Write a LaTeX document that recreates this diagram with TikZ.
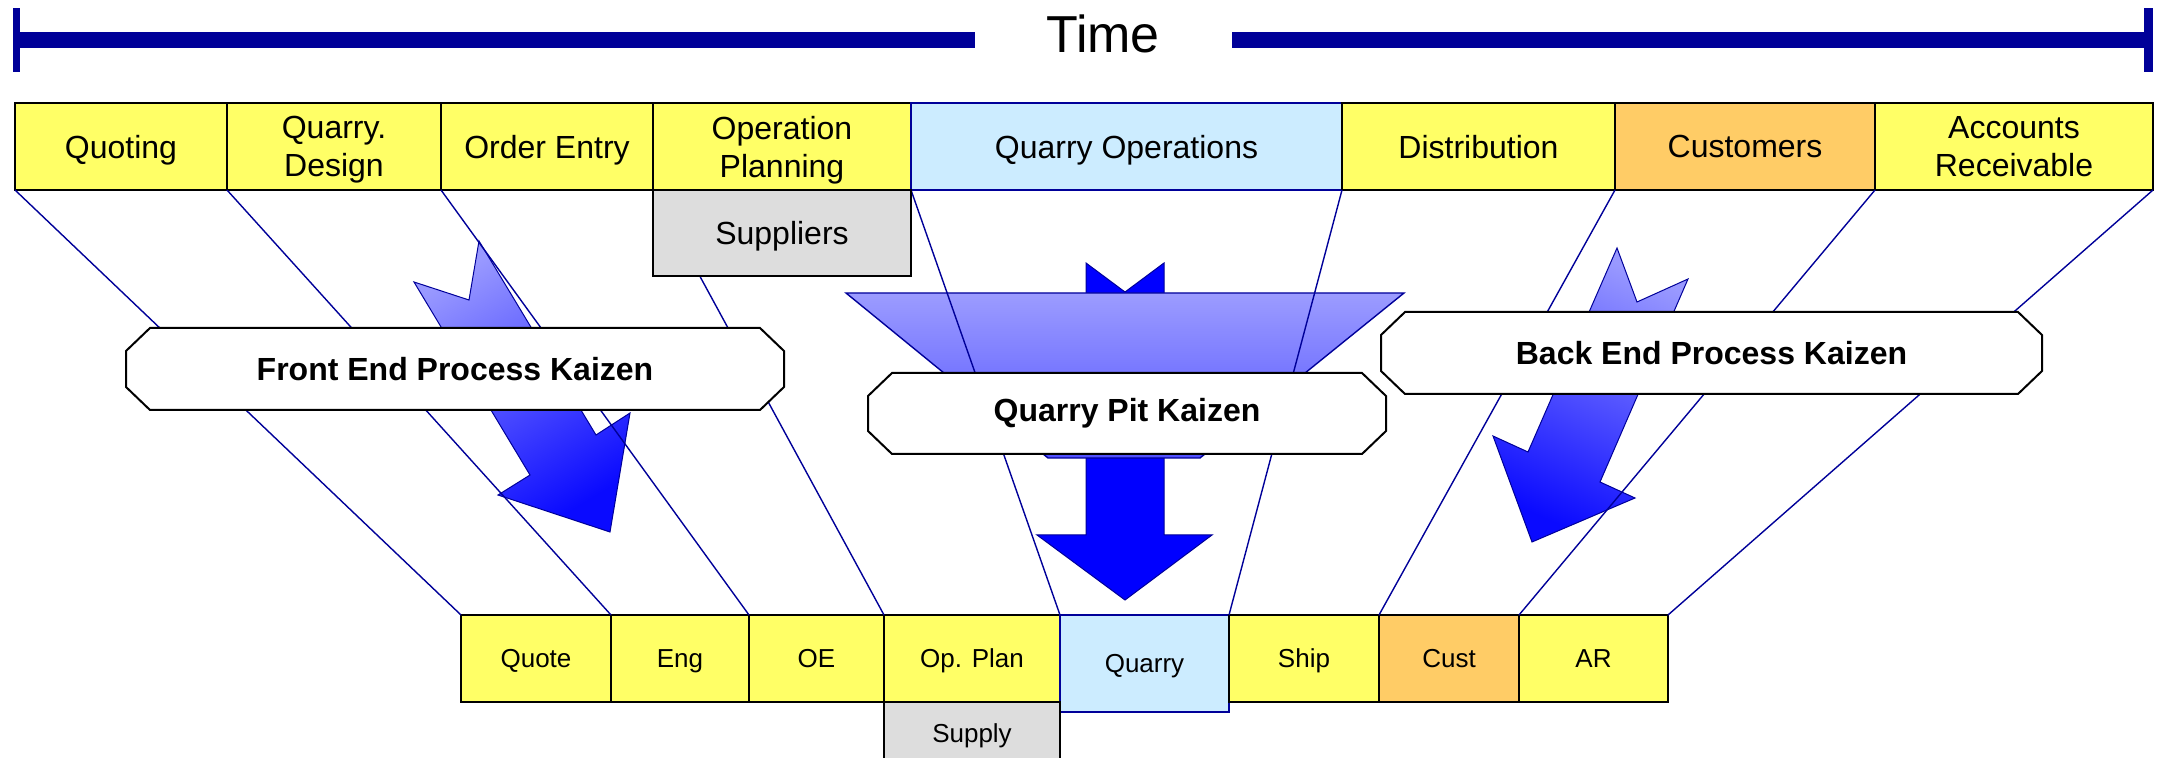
\documentclass[tikz,border=0pt]{standalone}
\usepackage{fontspec}
\setmainfont{Liberation Sans}
\definecolor{tbar}{HTML}{000099}
\definecolor{ylw}{HTML}{FFFF66}
\definecolor{lblue}{HTML}{CCECFF}
\definecolor{orng}{HTML}{FFCC66}
\definecolor{gry}{HTML}{DDDDDD}
\definecolor{lnk}{HTML}{000099}
\definecolor{arlight}{HTML}{9999FF}
\definecolor{ardark}{HTML}{0A0AFF}
\definecolor{funtop}{HTML}{9C9CFF}
\definecolor{funbot}{HTML}{5050FF}
\definecolor{solidblue}{HTML}{0000FF}
\newcommand\mybanner[6]{%
  \path[bannerline] ({#2+24},#3) -- ({#4-24},#3) -- (#4,{#3+23}) -- (#4,{#5-23}) --
    ({#4-24},#5) -- ({#2+24},#5) -- (#2,{#5-23}) -- (#2,{#3+23}) -- cycle;
  \node[bannertext] (#1) at ({(#2+#4)/2},{(#3+#5)/2}) {#6};}
\newcommand\mybox[7]{%
  \node[#6, minimum width={(#4-#2)/2}, minimum height={(#5-#3)/2}]
    (#1) at ({(#2+#4)/2},{(#3+#5)/2}) {#7};}
\begin{document}
\begin{tikzpicture}[x=0.5pt,y=-0.5pt,
  pbox/.style={draw=black, line width=1pt, inner sep=0pt, outer sep=0pt, text depth=0pt,
    font=\fontsize{16}{19}\selectfont, align=center},
  sbox/.style={draw=black, line width=1pt, inner sep=0pt, outer sep=0pt, text depth=0pt,
    font=\fontsize{13}{15}\selectfont, align=center},
  link/.style={draw=lnk, line width=0.7pt},
  bannerline/.style={draw=black, fill=white, line width=1pt},
  bannertext/.style={font=\bfseries\fontsize{16}{19}\selectfont},
  fatarrow/.style={draw=lnk, line width=0.5pt, top color=arlight, bottom color=ardark},
]
\useasboundingbox (0,0) rectangle (2158,758);
\clip (0,0) rectangle (2158,758);
\fill[white] (0,0) rectangle (2158,758);

% time bar
\fill[tbar] (13,8) rectangle (20,72);
\fill[tbar] (13,32) rectangle (975,48);
\fill[tbar] (1232,32) rectangle (2150,48);
\fill[tbar] (2144,8) rectangle (2153,72);
\node[anchor=base, font=\fontsize{26}{30}\selectfont, inner sep=0pt] (time) at (1103,53) {Time};

% fat arrows
\path[fatarrow, shading angle=31] (414,282) -- (469,300) -- (479,241) -- (596,435) -- (630,413)
  -- (610,532) -- (498,495) -- (530,475) -- cycle;
\path[fatarrow, shading angle=-24] (1617,248) -- (1637,302) -- (1688,279) -- (1600,482) -- (1635,498)
  -- (1532,542) -- (1493,436) -- (1528,452) -- cycle;
\path[draw=lnk, line width=0.5pt, fill=solidblue] (1086,263) -- (1125,292) -- (1164,263) -- (1164,535)
  -- (1212,535) -- (1125,600) -- (1037,535) -- (1086,535) -- cycle;
\path[draw=lnk, line width=0.7pt, top color=funtop, bottom color=funbot]
  (846,293) -- (1404,293) -- (1200,458) -- (1048,458) -- cycle;

% top boxes
\mybox{quoting}{15}{103}{227}{190}{pbox, fill=ylw}{Quoting}
\mybox{qdesign}{227}{103}{441}{190}{pbox, fill=ylw}{Quarry.\\Design}
\mybox{oentry}{441}{103}{653}{190}{pbox, fill=ylw}{Order Entry}
\mybox{opplan}{653}{103}{911}{190}{pbox, fill=ylw}{Operation\\Planning}
\mybox{qops}{911}{103}{1342}{190}{pbox, fill=lblue, draw=tbar}{Quarry Operations}
\mybox{dist}{1342}{103}{1615}{190}{pbox, fill=ylw}{Distribution}
\mybox{cust}{1615}{103}{1875}{190}{pbox, fill=orng}{Customers}
\mybox{ar}{1875}{103}{2153}{190}{pbox, fill=ylw}{Accounts\\Receivable}

% bottom boxes
\mybox{quote}{461}{615}{611}{702}{sbox, fill=ylw}{Quote}
\mybox{eng}{611}{615}{749}{702}{sbox, fill=ylw}{Eng}
\mybox{oe}{749}{615}{884}{702}{sbox, fill=ylw}{OE}
\mybox{opp}{884}{615}{1060}{702}{sbox, fill=ylw}{Op. Plan}
\mybox{quarry}{1060}{615}{1229}{712}{sbox, fill=lblue, draw=tbar}{Quarry}
\mybox{ship}{1229}{615}{1379}{702}{sbox, fill=ylw}{Ship}
\mybox{custb}{1379}{615}{1519}{702}{sbox, fill=orng}{Cust}
\mybox{arb}{1519}{615}{1668}{702}{sbox, fill=ylw}{AR}
\mybox{supply}{884}{702}{1060}{764}{sbox, fill=gry}{Supply}

% connectors
\draw[link] (quoting.south west) -- (quote.north west);
\draw[link] (qdesign.south west) -- (eng.north west);
\draw[link] (oentry.south west) -- (oe.north west);
\draw[link] (opplan.south west) -- (opp.north west);
\draw[link] (qops.south west) -- (quarry.north west);
\draw[link] (qops.south east) -- (quarry.north east);
\draw[link] (dist.south east) -- (custb.north west);
\draw[link] (cust.south east) -- (arb.north west);
\draw[link] (ar.south east) -- (arb.north east);

% suppliers box covers a connector
\mybox{suppliers}{653}{190}{911}{276}{pbox, fill=gry}{Suppliers}

% banners
\mybanner{front}{126}{328}{784}{410}{Front End Process Kaizen}
\mybanner{pit}{868}{373}{1386}{454}{Quarry Pit Kaizen}
\mybanner{back}{1381}{312}{2042}{394}{Back End Process Kaizen}
\end{tikzpicture}
\end{document}
